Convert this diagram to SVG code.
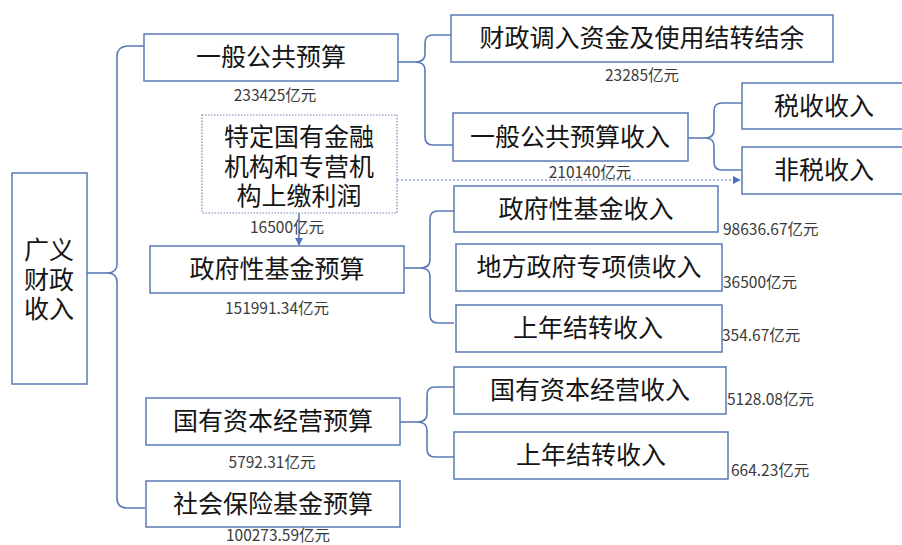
<svg xmlns="http://www.w3.org/2000/svg" width="902" height="545" viewBox="0 0 902 545">
<style>
.box{fill:#fff;stroke:#5a7ab5;stroke-width:1.5}
.dbox{fill:#fff;stroke:#6f88b8;stroke-width:1.2;stroke-dasharray:1.5,1.5}
.t{font-family:"Noto Sans CJK SC","Noto Sans",sans-serif;font-size:25px;fill:#151515;text-anchor:middle}
.n{font-family:"Noto Sans CJK SC","Noto Sans",sans-serif;font-size:15.5px;fill:#3a3a3a;text-anchor:middle}
.nl{font-family:"Noto Sans CJK SC","Noto Sans",sans-serif;font-size:15.5px;fill:#3a3a3a;text-anchor:start}
.c{fill:none;stroke:#5a7ab5;stroke-width:1.6}
.dc{fill:none;stroke:#5a7ab5;stroke-width:1.2;stroke-dasharray:2,2}
</style>
<defs>
<marker id="arr" viewBox="0 0 10 10" refX="9" refY="5" markerWidth="8" markerHeight="8" markerUnits="userSpaceOnUse" orient="auto">
<path d="M0,0 L10,5 L0,10 z" fill="#4a72c0"/>
</marker>
</defs>
<rect width="902" height="545" fill="#fff"/>
<g id="connectors">
<path class="c" d="M87,273 H107"/>
<path class="c" d="M144,46 H127 Q117,47 117,56 V264 Q117,273 107,273 Q117,273 117,282 V498 Q117,508 127,508 H145"/>
<path class="c" d="M395,62 H415"/>
<path class="c" d="M451,35 H433 Q425,35 425,43 V54 Q425,62 415,62 Q425,62 425,70 V137 Q425,145 433,145 H453"/>
<path class="c" d="M402,268 H420"/>
<path class="c" d="M454,211 H438 Q430,211 430,219 V260 Q430,268 420,268 Q430,268 430,276 V315 Q430,323 438,323 H454"/>
<path class="c" d="M396,422 H417"/>
<path class="c" d="M454,387 H435 Q427,387 427,395 V414 Q427,422 417,422 Q427,422 427,430 V449 Q427,457 435,457 H454"/>
<path class="c" d="M688,138 H705"/>
<path class="c" d="M742,103 H722 Q714,103 714,111 V130 Q714,138 705,138 Q714,138 714,146 V162 Q714,170 722,170 H742"/>
<path class="dc" d="M397,180 H740" marker-end="url(#arr)"/>
<path class="c" d="M299,213 V245" stroke="#4a72c0" marker-end="url(#arr)"/>
</g>
<g id="n-guangyi">
<rect class="box" x="12" y="173" width="75" height="211"/>
<text class="t" x="49" y="259"><tspan x="49" y="259">广义</tspan><tspan x="49" y="289">财政</tspan><tspan x="49" y="318">收入</tspan></text>
</g>
<g id="n-ybgg">
<rect class="box" x="144" y="34" width="254" height="47"/>
<text class="t" x="271" y="66">一般公共预算</text>
<text class="n" x="275" y="100.5">233425亿元</text>
</g>
<g id="n-tedin">
<rect class="dbox" x="202" y="115" width="195" height="98"/>
<text class="t" x="299" y="146"><tspan x="299" y="146">特定国有金融</tspan><tspan x="299" y="176">机构和专营机</tspan><tspan x="299" y="205">构上缴利润</tspan></text>
<text class="n" x="287" y="232.5">16500亿元</text>
</g>
<g id="n-zfxjj">
<rect class="box" x="150" y="246" width="254" height="47"/>
<text class="t" x="277" y="278">政府性基金预算</text>
<text class="n" x="277" y="313.5">151991.34亿元</text>
</g>
<g id="n-gyzb">
<rect class="box" x="146" y="398" width="254" height="47"/>
<text class="t" x="273" y="430">国有资本经营预算</text>
<text class="n" x="272" y="467.5">5792.31亿元</text>
</g>
<g id="n-shbx">
<rect class="box" x="146" y="481" width="254" height="46"/>
<text class="t" x="273" y="513">社会保险基金预算</text>
<text class="n" x="278" y="540.5">100273.59亿元</text>
</g>
<g id="n-czdr">
<rect class="box" x="451" y="15" width="382" height="47"/>
<text class="t" x="642" y="47">财政调入资金及使用结转结余</text>
<text class="n" x="642" y="80.5">23285亿元</text>
</g>
<g id="n-ybggsr">
<rect class="box" x="453" y="113" width="235" height="48"/>
<text class="t" x="570" y="146">一般公共预算收入</text>
<text class="n" x="590" y="178">210140亿元</text>
</g>
<g id="n-shui">
<rect class="box" x="742" y="83" width="170" height="46"/>
<text class="t" x="824" y="115">税收收入</text>
</g>
<g id="n-feishui">
<rect class="box" x="742" y="147" width="170" height="47"/>
<text class="t" x="824" y="179">非税收入</text>
</g>
<g id="n-zfxjjsr">
<rect class="box" x="454" y="186" width="264" height="46"/>
<text class="t" x="586" y="218">政府性基金收入</text>
<text class="nl" x="723" y="234.5">98636.67亿元</text>
</g>
<g id="n-dfzx">
<rect class="box" x="456" y="244" width="266" height="47"/>
<text class="t" x="589" y="276">地方政府专项债收入</text>
<text class="nl" x="723" y="287.5">36500亿元</text>
</g>
<g id="n-snjz1">
<rect class="box" x="456" y="305" width="266" height="47"/>
<text class="t" x="588" y="337">上年结转收入</text>
<text class="nl" x="722" y="340.5">354.67亿元</text>
</g>
<g id="n-gyzbsr">
<rect class="box" x="454" y="367" width="272" height="47"/>
<text class="t" x="590" y="399">国有资本经营收入</text>
<text class="nl" x="727" y="404.5">5128.08亿元</text>
</g>
<g id="n-snjz2">
<rect class="box" x="454" y="432" width="274" height="47"/>
<text class="t" x="591" y="464">上年结转收入</text>
<text class="nl" x="731" y="475.5">664.23亿元</text>
</g>
</svg>
